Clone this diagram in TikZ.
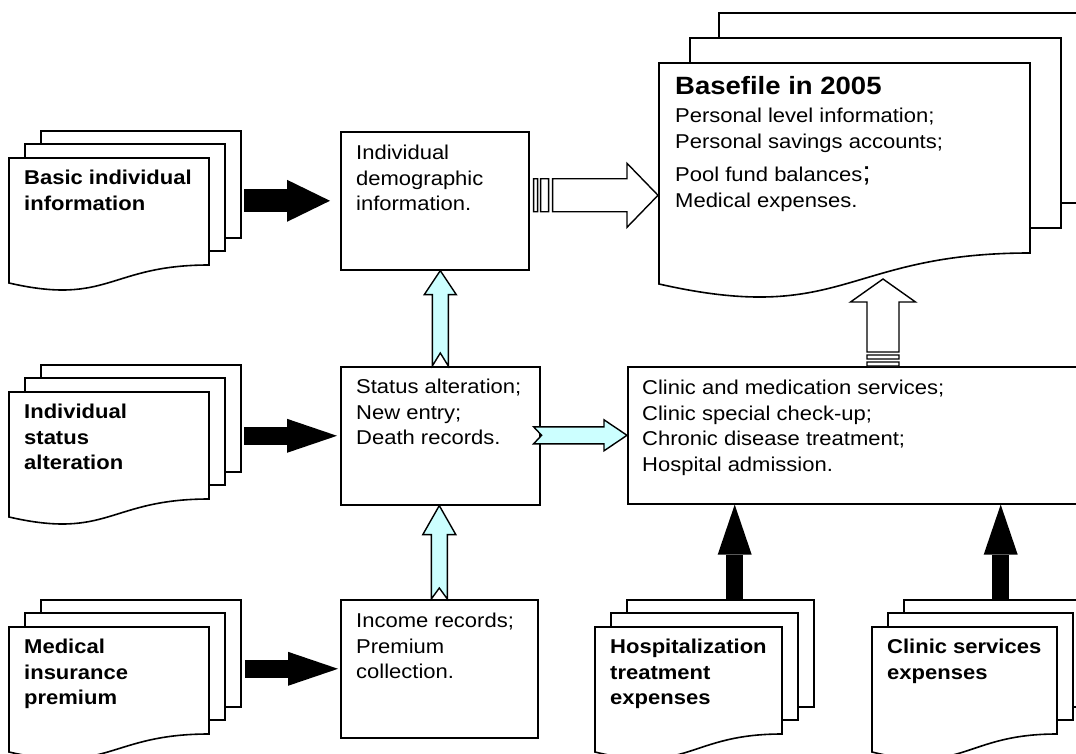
\documentclass[tikz,border=0pt]{standalone}
\usepackage{fontspec}
\setmainfont{Liberation Sans}[FakeStretch=1.1]
\usetikzlibrary{arrows.meta,calc}
\definecolor{paleCyan}{HTML}{CCFFFF}

\begin{document}
\begin{tikzpicture}[x=1pt,y=-1pt,
  page/.style={draw,fill=white,line width=1.6pt},
  frame/.style={rectangle,anchor=north west,inner sep=0pt},
  box/.style={frame,draw,line width=1.6pt},
  txt/.style={anchor=north west,inner sep=0pt,align=left,font=\fontsize{20}{25.5}\selectfont},
  doctxt/.style={txt,font=\fontsize{20}{25.5}\selectfont\bfseries},
  blk/.style={line width=17.5pt,-{Triangle[length=50pt,width=34pt,line width=0pt]}},
  notched/.style={draw,fill=paleCyan,line width=1.4pt},
  striped/.style={draw,fill=white,line width=1.4pt}]

\clip (0,0) rectangle (1076,754);

% source documents
\foreach \name/\x/\y/\w/\lbl in {
    basic/9/158/200/{Basic individual\\information},
    status/9/392/200/{Individual\\status\\alteration},
    premium/9/627/200/{Medical\\insurance\\premium},
    hosp/595/627/187/{Hospitalization\\treatment\\expenses},
    clinexp/872/627/185/{Clinic services\\expenses}}{
  \draw[page] (\x+32,\y-27) rectangle ++(\w,107);
  \draw[page] (\x+16,\y-14) rectangle ++(\w,107);
  \draw[page] (\x,\y) -- ++(\w,0) -- ++(0,107)
    .. controls (\x+\w/2,\y+107) and (\x+\w/2,\y+148) .. (\x,\y+125) -- cycle;
  \node[frame,minimum width=\w pt,minimum height=107pt] (\name) at (\x,\y) {};
  \node[doctxt] (\name-t) at (\x+15,\y+12) {\lbl};
}

% base file
\draw[page] (719,13) rectangle ++(371,190);
\draw[page] (690,38) rectangle ++(371,190);
\draw[page] (659,63) -- ++(371,0) -- ++(0,190)
  .. controls (844.5,253) and (844.5,326) .. (659,284) -- cycle;
\node[frame,minimum width=371pt,minimum height=190pt] (base) at (659,63) {};
\node[txt,font=\fontsize{20}{26}\selectfont] (base-t) at (675,76)
  {{\fontsize{25}{28}\selectfont\bfseries Basefile in 2005}\\[2pt]
   Personal level information;\\
   Personal savings accounts;\\[7pt]
   Pool fund balances{\fontsize{28}{28}\selectfont;}\\
   Medical expenses.};

% process boxes
\node[box,minimum width=188pt,minimum height=138pt] (demo) at (340,131) {};
\node[box,minimum width=199pt,minimum height=138pt] (alter) at (340,366) {};
\node[box,minimum width=197pt,minimum height=138pt] (income) at (340,599) {};
\node[box,minimum width=470pt,minimum height=137pt] (service) at (627,366) {};

\node[txt] (demo-t) at (356,145) {Individual\\demographic\\information.};
\node[txt] (alter-t) at (356,379) {Status alteration;\\New entry;\\Death records.};
\node[txt] (income-t) at (356,613) {Income records;\\Premium\\collection.};
\node[txt] (service-t) at (642,380) {Clinic and medication services;\\Clinic special check-up;\\Chronic disease treatment;\\Hospital admission.};

% black input arrows
\coordinate (basic-o) at ([xshift=35pt]basic.east);
\coordinate (status-o) at ([xshift=35pt]status.east);
\coordinate (premium-o) at ([xshift=36pt]premium.east);
\coordinate (hosp-o) at ([xshift=46pt,yshift=28pt]hosp.north);
\coordinate (clinexp-o) at ([xshift=36pt,yshift=28pt]clinexp.north);

\draw[blk,line width=23pt,-{Triangle[length=43pt,width=42pt,line width=0pt]}]
  (basic-o |- demo.west) -- ([xshift=-10pt]demo.west);
\draw[blk] (status-o |- alter.west) -- ([xshift=-3pt]alter.west);
\draw[blk] (premium-o |- income.west) -- ([xshift=-2pt]income.west);
\draw[blk] (hosp-o) -- (hosp-o |- service.south);
\draw[blk] (clinexp-o) -- (clinexp-o |- service.south);

% notched arrows
\draw[notched] let \p1=(alter.north), \p2=(demo.south) in
  (\x1-8pt,\y1) -- (\x1-8pt,\y2-24pt) -- (\x1-16pt,\y2-24pt) -- (\x1,\y2)
  -- (\x1+16pt,\y2-24pt) -- (\x1+8pt,\y2-24pt) -- (\x1+8pt,\y1) -- (\x1,\y1+13pt) -- cycle;
\draw[notched] let \p1=(income.north), \p2=(alter.south) in
  (\x1-8pt,\y1) -- (\x1-8pt,\y2-29pt) -- (\x1-16.5pt,\y2-29pt) -- (\x1,\y2)
  -- (\x1+16.5pt,\y2-29pt) -- (\x1+8pt,\y2-29pt) -- (\x1+8pt,\y1) -- (\x1,\y1+11pt) -- cycle;
\draw[notched] let \p1=(alter.east), \p2=(service.west) in
  (\x1-7pt,\y2+8.5pt) -- (\x2-23pt,\y2+8.5pt) -- (\x2-23pt,\y2+15.5pt) -- (\x2,\y2)
  -- (\x2-23pt,\y2-15.5pt) -- (\x2-23pt,\y2-8.5pt) -- (\x1-7pt,\y2-8.5pt) -- (\x1+1pt,\y2) -- cycle;

% striped arrows into the base file
\draw[striped] let \p1=(demo.east), \p2=(base.west) in
  (\x1+4pt,\y1+22pt) rectangle (\x1+8pt,\y1-11pt)
  (\x1+11pt,\y1+22pt) rectangle (\x1+19pt,\y1-11pt)
  (\x1+23pt,\y1+22pt) -- (\x2-32pt,\y1+22pt) -- (\x2-32pt,\y1+37.5pt) -- (\x2-1pt,\y1+5.5pt)
  -- (\x2-32pt,\y1-26.5pt) -- (\x2-32pt,\y1-11pt) -- (\x1+23pt,\y1-11pt) -- cycle;
\draw[striped] let \p1=(service.north west) in
  (\x1+240pt,\y1) rectangle (\x1+272pt,\y1+4pt)
  (\x1+240pt,\y1+7pt) rectangle (\x1+272pt,\y1+11pt)
  (\x1+240pt,\y1+14pt) -- (\x1+240pt,\y1+64pt) -- (\x1+223.5pt,\y1+64pt) -- (\x1+256pt,\y1+87pt)
  -- (\x1+288.5pt,\y1+64pt) -- (\x1+272pt,\y1+64pt) -- (\x1+272pt,\y1+14pt) -- cycle;
\end{tikzpicture}
\end{document}
